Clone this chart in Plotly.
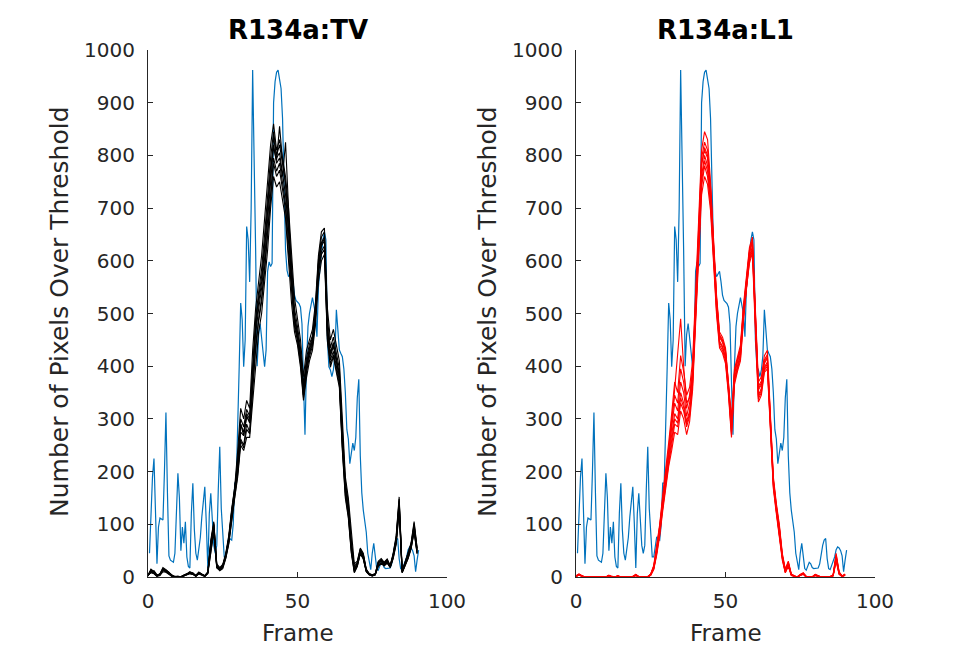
import plotly.graph_objects as go

# ---------------- data ----------------
# reference (blue) curve, sampled every half frame starting at frame 0.5
blue_step = 0.5
blue_values = [
    45, 120, 190, 225, 120, 25, 95, 112, 110, 108,
    200, 312, 160, 40, 32, 30, 28, 45, 146, 197,
    150, 50, 95, 64, 105, 38, 20, 17, 121, 178,
    90, 45, 32, 50, 75, 114, 150, 171, 102, 17,
    120, 159, 110, 60, 45, 60, 165, 247, 130, 70,
    38, 38, 60, 76, 72, 70, 100, 178, 178, 270,
    399, 520, 488, 399, 450, 665, 640, 560, 700, 962,
    810, 620, 400, 460, 481, 456, 431, 399, 431, 580,
    598, 589, 595, 900, 940, 958, 962, 943, 927, 870,
    734, 620, 582, 570, 575, 580, 560, 535, 525, 522,
    519, 512, 480, 370, 270, 400, 475, 500, 515, 530,
    515, 500, 456, 550, 585, 620, 640, 655, 640, 450,
    399, 393, 380, 393, 420, 507, 460, 431, 424, 418,
    395, 350, 280, 262, 215, 240, 254, 240, 265, 340,
    375, 230, 160, 127, 108, 85, 45, 25, 14, 45,
    64, 40, 16, 13, 19, 28, 25, 18, 16, 16,
    16, 17, 25, 45, 60, 70, 73, 35, 16, 14,
    22, 32, 38, 52, 57, 55, 50, 40, 10, 32,
    51,
]

# R134a:TV runs (black), one value per frame 0..90
tv_run1 = [2, 15, 10, 3, 6, 18, 14, 9, 3, 0,
           1, 0, 4, 6, 10, 7, 3, 9, 6, 2,
           10, 70, 105, 25, 18, 24, 45, 78, 130, 170,
           240, 320, 300, 335, 320, 430, 510, 565, 610, 680,
           750, 820, 860, 810, 830, 790, 760, 700, 610, 530,
           490, 450, 380, 430, 450, 470, 520, 610, 655, 662,
           510, 450, 470, 440, 410, 300, 190, 150, 80, 25,
           30, 55, 45, 15, 6, 4, 6, 30, 35, 28,
           34, 22, 45, 78, 152, 12, 28, 45, 65, 105,
           55]
tv_run2 = [4, 8, 6, 1, 3, 10, 9, 5, 1, 0,
           0, 1, 2, 4, 6, 5, 1, 6, 4, 1,
           6, 50, 85, 18, 12, 16, 35, 62, 110, 150,
           190, 250, 240, 265, 265, 335, 410, 465, 500, 555,
           620, 700, 760, 740, 750, 715, 680, 600, 520, 465,
           440, 398, 335, 378, 410, 430, 478, 560, 600, 612,
           448, 398, 418, 388, 360, 240, 150, 112, 45, 8,
           20, 45, 35, 10, 4, 2, 4, 20, 25, 22,
           26, 18, 35, 62, 125, 8, 20, 35, 55, 85,
           45]
tv_run3 = [3, 10, 12, 4, 5, 14, 10, 7, 2, 1,
           2, 0, 3, 5, 8, 8, 2, 7, 5, 3,
           8, 65, 100, 22, 14, 22, 40, 72, 125, 165,
           215, 290, 268, 305, 295, 382, 480, 530, 570, 632,
           700, 778, 815, 790, 855, 790, 745, 665, 575, 495,
           465, 425, 345, 400, 425, 448, 495, 585, 635, 645,
           475, 425, 445, 415, 385, 265, 175, 130, 62, 16,
           25, 52, 40, 12, 5, 3, 5, 28, 32, 25,
           30, 20, 42, 70, 140, 10, 25, 42, 62, 98,
           50]
tv_run4 = [2, 12, 8, 2, 4, 16, 12, 8, 2, 0,
           1, 0, 3, 5, 8, 6, 2, 8, 5, 2,
           8, 58, 92, 20, 15, 20, 40, 68, 118, 158,
           205, 275, 268, 305, 292, 385, 462, 508, 548, 605,
           675, 755, 820, 785, 795, 760, 825, 700, 565, 495,
           462, 420, 352, 402, 432, 450, 498, 592, 628, 638,
           468, 418, 438, 408, 378, 258, 168, 128, 58, 14,
           24, 48, 38, 12, 5, 3, 5, 24, 30, 24,
           30, 20, 40, 68, 138, 10, 24, 40, 58, 92,
           48]
tv_run5 = [4, 14, 9, 3, 6, 13, 13, 9, 3, 1,
           0, 1, 4, 6, 9, 5, 3, 9, 6, 2,
           9, 62, 98, 21, 16, 21, 42, 72, 122, 162,
           215, 290, 275, 310, 300, 395, 470, 520, 560, 622,
           695, 770, 835, 795, 805, 765, 725, 655, 560, 490,
           458, 418, 355, 405, 435, 455, 502, 595, 632, 642,
           472, 422, 442, 412, 382, 262, 172, 132, 60, 15,
           26, 50, 42, 13, 6, 3, 6, 26, 31, 26,
           32, 21, 41, 72, 145, 11, 26, 41, 60, 96,
           52]
tv_run6 = [3, 11, 7, 2, 5, 15, 11, 7, 2, 0,
           1, 0, 2, 4, 7, 6, 2, 7, 4, 2,
           7, 55, 90, 19, 14, 19, 38, 66, 115, 155,
           200, 262, 250, 290, 275, 360, 440, 490, 530, 588,
           655, 735, 795, 770, 785, 748, 708, 635, 548, 482,
           452, 410, 345, 392, 425, 442, 492, 580, 618, 628,
           458, 412, 428, 402, 372, 250, 162, 122, 52, 11,
           22, 46, 36, 11, 4, 2, 4, 22, 27, 23,
           28, 19, 38, 66, 132, 9, 22, 38, 56, 90,
           46]
tv_run7 = [3, 13, 9, 2, 5, 16, 12, 8, 3, 0,
           1, 0, 3, 5, 9, 7, 2, 8, 5, 2,
           9, 66, 102, 23, 16, 22, 42, 74, 126, 166,
           225, 300, 285, 318, 305, 405, 490, 540, 585, 650,
           720, 795, 845, 800, 820, 780, 748, 680, 590, 510,
           475, 435, 365, 415, 442, 458, 510, 602, 645, 655,
           492, 435, 455, 425, 395, 280, 182, 142, 68, 20,
           28, 53, 43, 14, 6, 4, 6, 28, 33, 27,
           33, 21, 43, 75, 148, 11, 27, 43, 63, 102,
           54]
tv_run8 = [3, 9, 7, 2, 4, 12, 10, 6, 2, 0,
           0, 0, 2, 4, 7, 5, 2, 6, 4, 1,
           7, 52, 88, 17, 13, 18, 36, 64, 112, 152,
           195, 258, 245, 280, 272, 352, 432, 485, 522, 580,
           650, 730, 785, 760, 772, 735, 695, 615, 535, 475,
           448, 405, 340, 388, 418, 438, 488, 575, 612, 622,
           452, 405, 422, 395, 365, 245, 155, 116, 48, 9,
           21, 44, 34, 10, 4, 2, 4, 21, 26, 21,
           27, 18, 36, 64, 128, 8, 21, 36, 54, 88,
           44]

# R134a:L1 runs (red), one value per frame 0..90
l1_run1 = [2, 5, 2, 0, 0, 1, 0, 0, 1, 0,
           0, 3, 0, 0, 2, 0, 0, 0, 0, 1,
           4, 0, 0, 1, 0, 6, 22, 58, 100, 155,
           200, 255, 310, 370, 350, 420, 390, 345, 360, 410,
           540, 690, 810, 845, 830, 750, 630, 535, 465, 455,
           435, 375, 300, 395, 420, 440, 515, 575, 625, 645,
           495, 370, 380, 420, 430, 315, 190, 140, 100, 45,
           15, 30, 6, 2, 0, 5, 8, 1, 0, 0,
           5, 2, 0, 0, 0, 1, 4, 45, 10, 2,
           6]
l1_run2 = [1, 4, 1, 0, 0, 0, 0, 0, 0, 0,
           0, 2, 0, 0, 1, 0, 0, 0, 0, 0,
           3, 0, 0, 0, 1, 4, 16, 48, 88, 135,
           180, 228, 290, 360, 420, 490, 400, 330, 340, 390,
           510, 650, 780, 815, 800, 730, 615, 525, 455, 445,
           425, 365, 290, 385, 410, 430, 505, 565, 615, 635,
           485, 355, 365, 405, 415, 305, 182, 132, 92, 40,
           12, 26, 4, 1, 0, 4, 6, 0, 0, 0,
           4, 1, 0, 0, 0, 0, 3, 38, 8, 1,
           4]
l1_run3 = [2, 6, 2, 0, 0, 1, 0, 0, 0, 0,
           0, 3, 1, 0, 2, 0, 0, 0, 0, 1,
           5, 1, 0, 0, 0, 5, 20, 52, 92, 142,
           188, 232, 270, 310, 300, 350, 330, 295, 315, 375,
           500, 630, 760, 800, 780, 720, 605, 515, 448, 438,
           418, 358, 280, 378, 400, 425, 498, 558, 608, 628,
           478, 345, 358, 398, 408, 298, 178, 128, 88, 38,
           10, 24, 5, 2, 0, 4, 7, 0, 0, 0,
           4, 1, 0, 0, 0, 0, 3, 35, 7, 1,
           5]
l1_run4 = [1, 5, 2, 0, 0, 0, 0, 0, 0, 0,
           0, 2, 0, 0, 1, 0, 0, 0, 0, 0,
           4, 0, 0, 0, 0, 4, 15, 45, 82, 130,
           175, 215, 250, 290, 285, 330, 315, 285, 305, 365,
           490, 615, 740, 780, 760, 705, 595, 505, 440, 430,
           410, 350, 270, 370, 395, 415, 490, 552, 600, 620,
           470, 338, 350, 392, 400, 290, 172, 124, 84, 35,
           9, 22, 4, 1, 0, 3, 6, 0, 0, 0,
           3, 1, 0, 0, 0, 0, 2, 32, 6, 1,
           4]
l1_run5 = [2, 5, 3, 0, 0, 1, 0, 0, 0, 0,
           0, 3, 0, 0, 2, 0, 0, 0, 0, 1,
           5, 0, 0, 1, 0, 6, 20, 55, 96, 150,
           195, 245, 300, 345, 330, 395, 370, 320, 345, 395,
           525, 670, 795, 825, 810, 740, 622, 530, 460, 450,
           430, 370, 295, 390, 415, 435, 510, 570, 620, 640,
           490, 362, 372, 412, 422, 310, 186, 136, 96, 42,
           14, 28, 5, 2, 0, 5, 7, 1, 0, 0,
           5, 2, 0, 0, 0, 1, 4, 42, 9, 2,
           5]
l1_run6 = [1, 4, 2, 0, 0, 0, 0, 0, 0, 0,
           0, 2, 0, 0, 1, 0, 0, 0, 0, 0,
           3, 0, 0, 0, 0, 3, 14, 42, 78, 125,
           170, 210, 240, 275, 270, 315, 300, 270, 295, 355,
           480, 600, 725, 760, 745, 695, 585, 498, 435, 425,
           405, 345, 265, 365, 390, 410, 485, 548, 595, 615,
           465, 332, 345, 388, 395, 285, 168, 120, 80, 32,
           8, 20, 3, 1, 0, 3, 5, 0, 0, 0,
           3, 1, 0, 0, 0, 0, 2, 30, 5, 1,
           3]
l1_run7 = [2, 5, 2, 0, 0, 1, 0, 0, 0, 0,
           0, 3, 0, 0, 2, 0, 0, 0, 0, 1,
           4, 1, 0, 0, 1, 5, 19, 50, 90, 145,
           192, 240, 285, 330, 315, 370, 350, 305, 330, 385,
           515, 660, 785, 810, 795, 735, 618, 528, 458, 448,
           428, 368, 288, 386, 412, 432, 505, 566, 616, 636,
           486, 358, 368, 408, 418, 306, 184, 134, 94, 40,
           12, 27, 5, 2, 0, 4, 7, 1, 0, 0,
           4, 2, 0, 0, 0, 1, 3, 40, 8, 2,
           5]
l1_run8 = [1, 4, 1, 0, 0, 0, 0, 0, 0, 0,
           0, 2, 0, 0, 1, 0, 0, 0, 0, 0,
           3, 0, 0, 0, 0, 4, 17, 47, 85, 132,
           178, 222, 260, 300, 292, 340, 322, 290, 310, 370,
           495, 620, 750, 790, 770, 712, 600, 510, 445, 435,
           415, 355, 275, 374, 398, 420, 494, 555, 604, 624,
           474, 342, 354, 395, 404, 294, 175, 126, 86, 36,
           9, 23, 4, 1, 0, 3, 6, 0, 0, 0,
           3, 1, 0, 0, 0, 0, 2, 34, 6, 1,
           4]

tv_runs = [tv_run1, tv_run2, tv_run3, tv_run4, tv_run5, tv_run6, tv_run7, tv_run8]
l1_runs = [l1_run1, l1_run2, l1_run3, l1_run4, l1_run5, l1_run6, l1_run7, l1_run8]

titles = ["R134a:TV", "R134a:L1"]
x_label = "Frame"
y_label = "Number of Pixels Over Threshold"
x_ticks = [0, 50, 100]
y_ticks = [0, 100, 200, 300, 400, 500, 600, 700, 800, 900, 1000]

# ---------------- figure ----------------
W, H = 974, 648
BLUE = "#0072BD"
AX = "#262626"
FONT = "DejaVu Sans"

blue_x = [blue_step * (i + 1) for i in range(len(blue_values))]

fig = go.Figure()

panels = [("x", "y", tv_runs, "black"), ("x2", "y2", l1_runs, "#FF0000")]
for xa, ya, runs, col in panels:
    fig.add_trace(go.Scatter(x=blue_x, y=blue_values, mode="lines",
                             line=dict(color=BLUE, width=1.2),
                             xaxis=xa, yaxis=ya, showlegend=False, hoverinfo="skip"))
    for r in runs:
        fig.add_trace(go.Scatter(x=list(range(len(r))), y=r, mode="lines",
                                 line=dict(color=col, width=1.1),
                                 xaxis=xa, yaxis=ya, showlegend=False, hoverinfo="skip"))

# axes placement in pixels
left_px = [(148, 447), (576, 875)]
top_px, bot_px = 50, 577


def px2x(p):
    return p / W


def px2y(p):
    return 1 - p / H


axis_common = dict(showline=True, linecolor=AX, linewidth=1, mirror=False,
                   ticks="inside", ticklen=5, tickwidth=1, tickcolor=AX,
                   showgrid=False, zeroline=False, automargin=False,
                   tickfont=dict(family=FONT, size=20, color=AX))

layout = dict(width=W, height=H, autosize=False, margin=dict(l=0, r=0, t=0, b=0, pad=0),
              paper_bgcolor="white", plot_bgcolor="white", showlegend=False,
              template="none")

for i, (l, r) in enumerate(left_px):
    sfx = "" if i == 0 else "2"
    layout["xaxis" + sfx] = dict(axis_common, domain=[px2x(l), px2x(r)], range=[0, 100],
                                 tickvals=x_ticks, anchor="y" + sfx, ticklabelstandoff=6)
    layout["yaxis" + sfx] = dict(axis_common, domain=[px2y(bot_px), px2y(top_px)], range=[0, 1000],
                                 tickvals=y_ticks, anchor="x" + sfx, ticklabelstandoff=8)

fig.update_layout(**layout)

ann = []
for i, (l, r) in enumerate(left_px):
    cx = (l + r) / 2
    ann.append(dict(text="<b>%s</b>" % titles[i], x=px2x(cx), y=px2y(30), xref="paper", yref="paper",
                    showarrow=False, xanchor="center", yanchor="middle",
                    font=dict(family=FONT, size=26, color="black")))
    ann.append(dict(text=x_label, x=px2x(cx), y=px2y(633), xref="paper", yref="paper",
                    showarrow=False, xanchor="center", yanchor="middle",
                    font=dict(family=FONT, size=23, color=AX)))
    ann.append(dict(text=y_label, x=px2x(l - 88), y=px2y(312), xref="paper", yref="paper",
                    showarrow=False, xanchor="center", yanchor="middle", textangle=-90,
                    font=dict(family=FONT, size=25, color=AX)))
fig.update_layout(annotations=ann)

fig.write_html("out.html", config={"responsive": False, "displayModeBar": False})
